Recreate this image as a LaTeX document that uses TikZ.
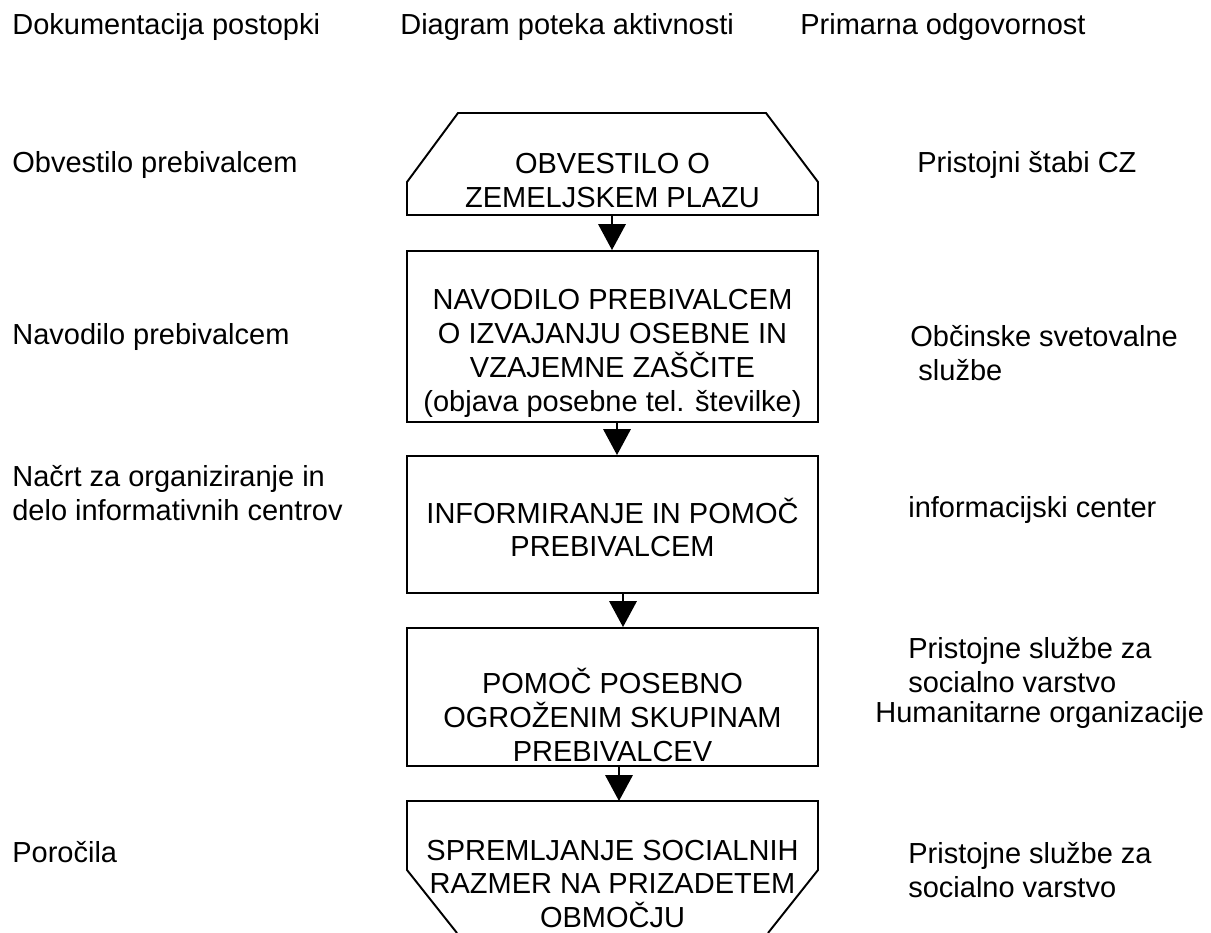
\documentclass[tikz,border=0pt]{standalone}
\usepackage{fontspec}
\setmainfont{Liberation Sans}
\usepackage{tikz}
\usetikzlibrary{arrows.meta,positioning,calc}

\begin{document}
\begin{tikzpicture}[x=0.02cm,y=-0.02cm,
	every node/.style={font=\fontsize{16.5}{19.3}\selectfont,inner sep=0pt},
	lbl/.style={anchor=west,align=left},
	boxtxt/.style={align=center},
	outline/.style={line width=1.1pt},
	stepbox/.style={draw,line width=1.1pt,minimum width=8.22cm},
	arr/.style={line width=1.1pt,-{Triangle[width=0.55cm,length=0.52cm]}}]
	\useasboundingbox (0,0) rectangle (1211,933);

	% column headers
	\node[lbl] (hdoc) at (12,27) {Dokumentacija postopki};
	\node[lbl] (hdia) at (400,27) {Diagram poteka aktivnosti};
	\node[lbl] (hodg) at (800,27) {Primarna odgovornost};

	% first and last shape
	\draw[outline] (407,215) -- (407,182) -- (458,113) -- (766,113) -- (818,182) -- (818,215) -- cycle;
	\coordinate (b1) at (612,215);
	\node[boxtxt] (t1) at (612.5,180.5) {OBVESTILO O\\ZEMELJSKEM PLAZU};

	\node[stepbox,minimum height=3.42cm] (b2) at (612.5,336.5) {};
	\node[boxtxt] (t2) at (612.5,353.5) {NAVODILO PREBIVALCEM\\O IZVAJANJU OSEBNE IN\\VZAJEMNE ZAŠČITE\\(objava posebne tel. številke)};

	\node[stepbox,minimum height=2.74cm] (b3) at (612.5,524.5) {};
	\node[boxtxt] (t3) at (612.5,527.5) {INFORMIRANJE IN POMOČ\\PREBIVALCEM};

	\node[stepbox,minimum height=2.76cm] (b4) at (612.5,697) {};
	\node[boxtxt] (t4) at (612.5,715) {POMOČ POSEBNO\\OGROŽENIM SKUPINAM\\PREBIVALCEV};

	\draw[outline] (457,933) -- (407,870) -- (407,801) -- (818,801) -- (818,870) -- (768,933);
	\coordinate (b5) at (619,801);
	\node[boxtxt] (t5) at (612.5,884) {SPREMLJANJE SOCIALNIH\\RAZMER NA PRIZADETEM\\OBMOČJU};

	% arrows
	\draw[arr] (b1) -- (b1 |- b2.north);
	\draw[arr] ($(b2.south)+(4.5,0)$) -- ($(b3.north)+(4.5,0)$);
	\draw[arr] ($(b3.south)+(10.5,0)$) -- ($(b4.north)+(10.5,0)$);
	\draw[arr] ($(b4.south)+(6.5,0)$) -- (b5);

	% documents
	\node[lbl] (d1) at (12,165) {Obvestilo prebivalcem};
	\node[lbl] (d2) at (12,337) {Navodilo prebivalcem};
	\node[lbl] (d3) at (12,493.5) {Načrt za organiziranje in\\delo informativnih centrov};
	\node[lbl] (d5) at (12,852) {Poročila};

	% responsibility
	\node[lbl] (r1) at (917,165) {Pristojni štabi CZ};
	\node[lbl] (r2) at (910,353.5) {Občinske svetovalne\\\hspace*{0.28em}službe};
	\node[lbl] (r3) at (908,510) {informacijski center};
	\node[lbl] (r4) at (908,665) {Pristojne službe za\\socialno varstvo};
	\node[lbl] (r4b) at (875,715) {Humanitarne organizacije};
	\node[lbl] (r5) at (908,870) {Pristojne službe za\\socialno varstvo};
\end{tikzpicture}
\end{document}
